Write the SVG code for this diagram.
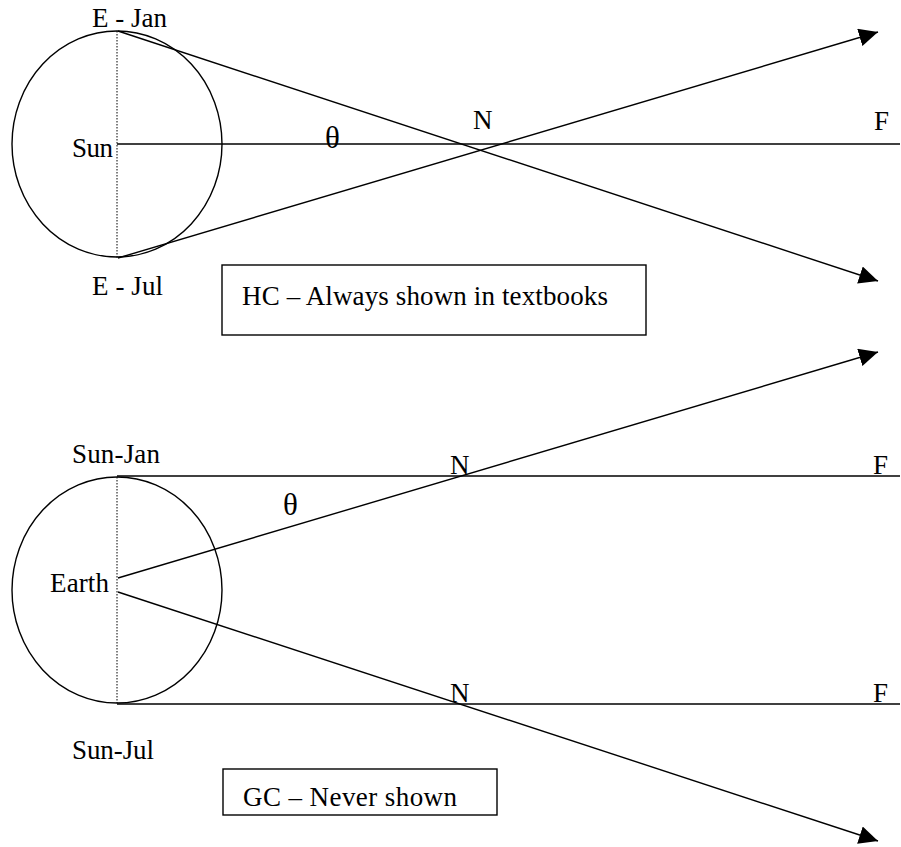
<svg xmlns="http://www.w3.org/2000/svg" width="901" height="847" viewBox="0 0 901 847">
<style>
  text { font-family: "Liberation Serif", "Times New Roman", serif; font-size: 27px; fill: #000; }
  .th { font-size: 31px; }
  .body { fill: none; stroke: #000; stroke-width: 1.4; }
  .axis { stroke: #000; stroke-width: 1; stroke-dasharray: 1.5 1.5; }
  .ray { stroke: #000; stroke-width: 1.4; fill: none; }
  .box { fill: #fff; stroke: #000; stroke-width: 1.4; }
</style>
<defs>
  <marker id="arr" markerUnits="userSpaceOnUse" markerWidth="20" markerHeight="18" refX="19" refY="9" orient="auto">
    <path d="M0,0 L19,9 L0,18 z" fill="#000"/>
  </marker>
</defs>
<rect width="901" height="847" fill="#fff"/>

<g id="connectors">
  <line class="ray" x1="117" y1="144" x2="900" y2="144"/>
  <line class="ray" x1="118" y1="31" x2="878" y2="281" marker-end="url(#arr)"/>
  <line class="ray" x1="118" y1="258" x2="878" y2="32" marker-end="url(#arr)"/>
  <line class="ray" x1="117" y1="476" x2="900" y2="476"/>
  <line class="ray" x1="117" y1="704" x2="900" y2="704"/>
  <line class="ray" x1="118" y1="578" x2="878" y2="352" marker-end="url(#arr)"/>
  <line class="ray" x1="118" y1="592" x2="878" y2="841" marker-end="url(#arr)"/>
</g>

<g id="sun">
  <ellipse class="body" cx="117" cy="144" rx="105" ry="113"/>
  <line class="axis" x1="117" y1="31" x2="117" y2="258"/>
  <text x="72" y="157" textLength="41">Sun</text>
</g>
<g id="e-jan"><text x="92" y="27" textLength="75">E - Jan</text></g>
<g id="e-jul"><text x="92" y="295" textLength="71">E - Jul</text></g>
<g id="theta1"><text class="th" x="325" y="148">θ</text></g>
<g id="n1"><text x="473" y="129">N</text></g>
<g id="f1"><text x="874" y="130">F</text></g>
<g id="hc-box">
  <rect class="box" x="222" y="265" width="424" height="70"/>
  <text x="242" y="305" textLength="366">HC – Always shown in textbooks</text>
</g>

<g id="earth">
  <ellipse class="body" cx="117" cy="590" rx="105" ry="113"/>
  <line class="axis" x1="117" y1="477" x2="117" y2="703"/>
  <text x="50" y="592" textLength="59">Earth</text>
</g>
<g id="sun-jan"><text x="72" y="463" textLength="88">Sun-Jan</text></g>
<g id="sun-jul"><text x="72" y="759" textLength="82">Sun-Jul</text></g>
<g id="theta2"><text class="th" x="283" y="515">θ</text></g>
<g id="n2"><text x="450" y="474">N</text></g>
<g id="f2"><text x="873" y="474">F</text></g>
<g id="n3"><text x="450" y="702">N</text></g>
<g id="f3"><text x="873" y="702">F</text></g>
<g id="gc-box">
  <rect class="box" x="223" y="769" width="274" height="46"/>
  <text x="243" y="806" textLength="214">GC – Never shown</text>
</g>
</svg>
